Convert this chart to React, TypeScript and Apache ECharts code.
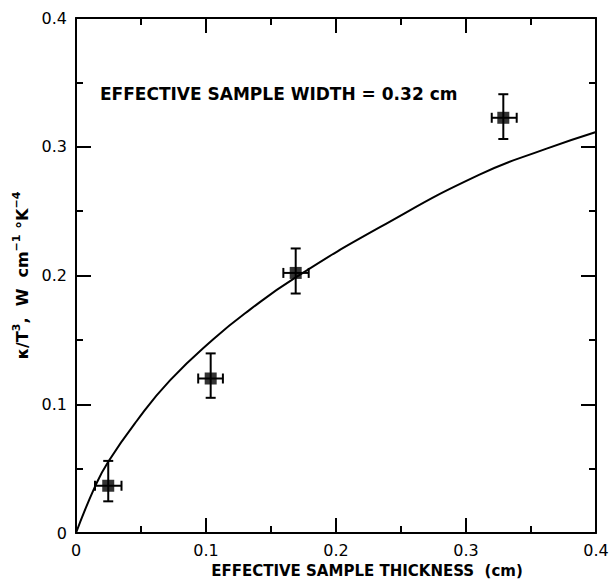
import React, { useEffect, useRef } from "react";
import * as echarts from "echarts";

// Measured points: [x, y]
const pointX = [0.0248, 0.1036, 0.169, 0.3287];
const pointY = [0.0367, 0.12, 0.202, 0.3225];
// Error ranges
const xLow = [0.0146, 0.094, 0.1595, 0.3198];
const xHigh = [0.035, 0.113, 0.179, 0.339];
const yLow = [0.0246, 0.105, 0.186, 0.306];
const yHigh = [0.056, 0.1395, 0.221, 0.3408];

// Fitted curve
const curveX = [0, 0.0146, 0.0248, 0.0467, 0.0723, 0.1056, 0.1338, 0.169, 0.2338, 0.3108, 0.362, 0.4];
const curveY = [0, 0.036, 0.0554, 0.087, 0.1185, 0.1505, 0.1735, 0.1985, 0.2375, 0.2785, 0.2985, 0.3115];

const xTicks = [0, 0.1, 0.2, 0.3, 0.4];
const yTicks = [0, 0.1, 0.2, 0.3, 0.4];

const annotation = "EFFECTIVE SAMPLE WIDTH = 0.32 cm";
const xName = "EFFECTIVE SAMPLE THICKNESS  (cm)";
const yName = "{b|κ/T}{s|3}{b|,  W  cm}{s|−1}{b| °K}{s|−4}";

const FONT = "'DejaVu Sans', sans-serif";

export default function App() {
  const ref = useRef<HTMLDivElement>(null);
  useEffect(() => {
    if (!ref.current) return;
    const chart = echarts.init(ref.current, undefined, { renderer: "svg" });
    const fmt = (v: number) => (v === 0 ? "0" : v.toFixed(1));
    const axisCommon = (show: boolean) => ({
      type: "value" as const,
      min: xTicks[0],
      max: xTicks[xTicks.length - 1],
      interval: 0.1,
      axisLine: { show: true, onZero: false, lineStyle: { color: "#000", width: 2 } },
      axisTick: { show: true, inside: true, length: 15, lineStyle: { color: "#000", width: 2 } },
      minorTick: { show: true, splitNumber: 2, length: 7, lineStyle: { color: "#000", width: 2 } },
      splitLine: { show: false },
      minorSplitLine: { show: false },
      axisLabel: {
        show,
        formatter: fmt,
        color: "#000",
        fontSize: 16,
        fontFamily: FONT,
        margin: 9,
      },
    });
    const errData = pointX.map((x, i) => [x, pointY[i], xLow[i], xHigh[i], yLow[i], yHigh[i]]);
    chart.setOption({
      animation: false,
      backgroundColor: "#fff",
      grid: { left: 76, right: 17, top: 18, bottom: 46, containLabel: false },
      xAxis: [
        {
          ...axisCommon(true),
          position: "bottom",
          name: xName,
          nameLocation: "middle",
          nameGap: 30,
          nameTextStyle: {
            color: "#000",
            fontSize: 15,
            fontWeight: "bold",
            fontFamily: FONT,
            padding: [0, 0, 0, 62],
          },
        },
        { ...axisCommon(false), position: "top" },
      ],
      yAxis: [
        {
          ...axisCommon(true),
          min: yTicks[0],
          max: yTicks[yTicks.length - 1],
          position: "left",
          name: yName,
          nameLocation: "middle",
          nameRotate: 90,
          nameGap: 46,
          nameTextStyle: {
            color: "#000",
            fontFamily: FONT,
            rich: {
              b: { fontSize: 16, fontWeight: "bold", fontFamily: FONT, color: "#000", lineHeight: 19, verticalAlign: "bottom" },
              s: { fontSize: 11, fontWeight: "bold", fontFamily: FONT, color: "#000", lineHeight: 19, verticalAlign: "top" },
            },
          },
        },
        {
          ...axisCommon(false),
          min: yTicks[0],
          max: yTicks[yTicks.length - 1],
          position: "right",
        },
      ],
      graphic: [
        {
          type: "text",
          left: 100,
          top: 85,
          style: {
            text: annotation,
            fill: "#000",
            font: `bold 17px ${FONT}`,
          },
        },
      ],
      series: [
        {
          type: "line",
          xAxisIndex: 0,
          yAxisIndex: 0,
          data: curveX.map((x, i) => [x, curveY[i]]),
          smooth: 0.5,
          showSymbol: false,
          lineStyle: { color: "#000", width: 2 },
          z: 2,
        },
        {
          type: "custom",
          xAxisIndex: 0,
          yAxisIndex: 0,
          data: errData,
          z: 3,
          renderItem: (params: any, api: any) => {
            const x = api.value(0);
            const y = api.value(1);
            const xl = api.coord([api.value(2), y]);
            const xh = api.coord([api.value(3), y]);
            const yl = api.coord([x, api.value(4)]);
            const yh = api.coord([x, api.value(5)]);
            const cap = 5;
            const st = { stroke: "#000", lineWidth: 2 };
            return {
              type: "group",
              children: [
                { type: "line", shape: { x1: yl[0], y1: yl[1], x2: yh[0], y2: yh[1] }, style: st },
                { type: "line", shape: { x1: yl[0] - cap, y1: yl[1], x2: yl[0] + cap, y2: yl[1] }, style: st },
                { type: "line", shape: { x1: yh[0] - cap, y1: yh[1], x2: yh[0] + cap, y2: yh[1] }, style: st },
                { type: "line", shape: { x1: xl[0], y1: xl[1], x2: xh[0], y2: xh[1] }, style: st },
                { type: "line", shape: { x1: xl[0], y1: xl[1] - cap, x2: xl[0], y2: xl[1] + cap }, style: st },
                { type: "line", shape: { x1: xh[0], y1: xh[1] - cap, x2: xh[0], y2: xh[1] + cap }, style: st },
              ],
            };
          },
        },
        {
          type: "scatter",
          xAxisIndex: 0,
          yAxisIndex: 0,
          data: pointX.map((x, i) => [x, pointY[i]]),
          symbol: "rect",
          symbolSize: 12,
          itemStyle: { color: "#000" },
          z: 4,
        },
      ],
    });
    return () => chart.dispose();
  }, []);
  return <div ref={ref} style={{ width: 613, height: 583, position: "absolute", left: 0, top: 0 }} />;
}
